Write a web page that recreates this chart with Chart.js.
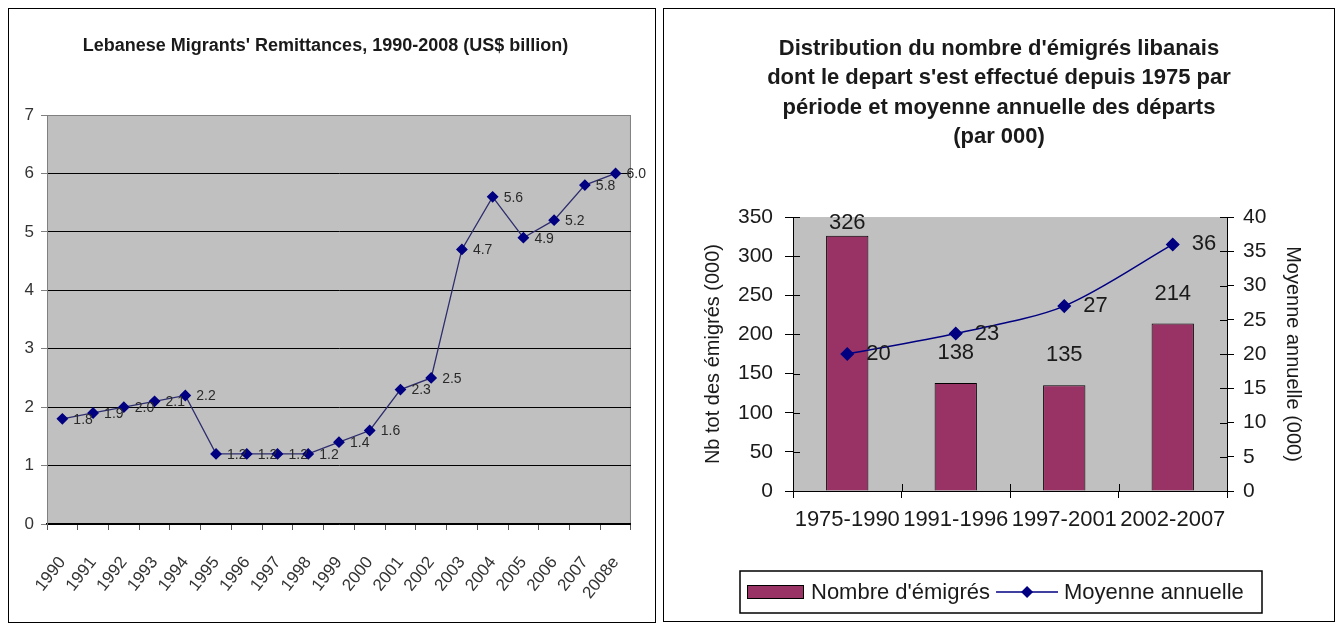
<!DOCTYPE html>
<html><head><meta charset="utf-8">
<script src="https://cdn.jsdelivr.net/npm/chart.js@4.4.1/dist/chart.umd.min.js"></script>
<style>
html,body{margin:0;padding:0;background:#fff;width:1338px;height:627px;overflow:hidden}
.box{position:absolute;border:1px solid #000;background:#fff}
#bl{left:8px;top:8px;width:646px;height:613px}
#br{left:663px;top:8px;width:670px;height:612px}
canvas{display:block}
</style></head><body>
<div class="box" id="bl"><canvas id="c1" width="646" height="613"></canvas></div>
<div class="box" id="br"><canvas id="c2" width="670" height="612"></canvas></div>
<script>
// ---- data: left chart ----
const years = ['1990','1991','1992','1993','1994','1995','1996','1997','1998','1999','2000','2001','2002','2003','2004','2005','2006','2007','2008e'];
const remittances = [1.8,1.9,2.0,2.1,2.2,1.2,1.2,1.2,1.2,1.4,1.6,2.3,2.5,4.7,5.6,4.9,5.2,5.8,6.0];
const remitMin = 0, remitMax = 7, remitStep = 1;
// ---- data: right chart ----
const periods = ['1975-1990','1991-1996','1997-2001','2002-2007'];
const emigrants = [326,138,135,214];
const annualAvg = [20,23,27,36];
const leftMin = 0, leftMax = 350, leftStep = 50;
const rightMin = 0, rightMax = 40, rightStep = 5;

const NARROW = "'Liberation Sans Narrow','Liberation Sans',Arial,sans-serif";
const REG = "'Liberation Sans',Arial,sans-serif";
const TXT = '#1a1a1a';

const plotBg = (fill, edge) => ({
  id:'plotBg',
  beforeDraw(chart){
    const a = chart.chartArea, c = chart.ctx;
    c.save(); c.fillStyle = fill; c.fillRect(a.left, a.top, a.right-a.left, a.bottom-a.top);
    if (edge){ c.strokeStyle = edge; c.lineWidth = 1; c.strokeRect(a.left+0.5, a.top+0.5, a.right-a.left-1, a.bottom-a.top-1); }
    c.restore();
  }
});

const leftLabels = {
  id:'leftLabels',
  afterDatasetsDraw(chart){
    const c = chart.ctx, meta = chart.getDatasetMeta(0), ds = chart.data.datasets[0].data;
    c.save(); c.font = '14px ' + NARROW; c.fillStyle = '#2a2a2a'; c.textAlign = 'left'; c.textBaseline = 'middle';
    meta.data.forEach((p,i) => c.fillText(ds[i].toFixed(1), p.x + 11, p.y + 1));
    c.restore();
  }
};

new Chart(document.getElementById('c1'), {
  type:'line',
  data:{labels: years, datasets:[{label:"Remittances (US$ billion)", data: remittances,
    borderColor:'#2e2e6e', borderWidth:1.3, tension:0, fill:false,
    pointStyle:'rectRot', pointRadius:5, pointBackgroundColor:'#000080', pointBorderColor:'#000080'}]},
  options:{responsive:false, animation:false, devicePixelRatio:1,
    layout:{padding:{left:0,right:13,top:0,bottom:0}},
    plugins:{legend:{display:false}, tooltip:{enabled:false},
      title:{display:true, text:"Lebanese Migrants' Remittances, 1990-2008 (US$ billion)", color:TXT,
        font:{family:NARROW, size:18, weight:'bold', lineHeight:1.2}, padding:{top:26,bottom:58.4}}},
    scales:{
      x:{offset:true, grid:{offset:true, drawOnChartArea:false, tickLength:6, tickColor:'#555'},
         border:{color:'#000', width:1.5},
         ticks:{minRotation:52, maxRotation:52, autoSkip:false, color:'#333', font:{family:NARROW,size:17}, padding:23},
         afterFit(s){ s.height = 98; }},
      y:{min:remitMin, max:remitMax, ticks:{stepSize:remitStep, color:'#333', font:{family:NARROW,size:17}, padding:7},
         grid:{color:ctx => (ctx.tick && ctx.tick.value === remitMax) ? '#808080' : '#000', tickColor:'#808080', tickLength:6, lineWidth:1},
         border:{color:'#808080'},
         afterFit(s){ s.width = 38; }}
    }
  },
  plugins:[plotBg('#c0c0c0','#808080'), leftLabels]
});

const rightExtras = {
  id:'rightExtras',
  afterDraw(chart){
    const c = chart.ctx, a = chart.chartArea;
    c.save();
    c.strokeStyle = '#000'; c.lineWidth = 1;
    const ys = chart.scales.y, y1 = chart.scales.y1;
    c.beginPath();
    ys.ticks.forEach((t,i) => { const y = Math.round(ys.getPixelForTick(i))+0.5; c.moveTo(a.left, y); c.lineTo(a.left+7, y); });
    y1.ticks.forEach((t,i) => { const y = Math.round(y1.getPixelForTick(i))+0.5; c.moveTo(a.right-7, y); c.lineTo(a.right, y); });
    const n = chart.data.labels.length, w = (a.right-a.left)/n;
    for (let i=1;i<n;i++){ const x = Math.round(a.left + i*w)+0.5; c.moveTo(x, a.bottom-7); c.lineTo(x, a.bottom); }
    c.stroke();
    const bm = chart.getDatasetMeta(0), bd = chart.data.datasets[0].data;
    c.font = '22px ' + REG; c.fillStyle = TXT; c.textAlign = 'center'; c.textBaseline = 'middle';
    bm.data.forEach((el,i) => c.fillText(String(bd[i]), el.x, Math.max(el.y - 30, a.top + 6)));
    const lm = chart.getDatasetMeta(1), ld = chart.data.datasets[1].data;
    c.textAlign = 'left';
    lm.data.forEach((el,i) => c.fillText(String(ld[i]), el.x + 19, el.y));
    const bx = 76, by = 562, bw = 522, bh = 42, cy = by + bh/2;
    c.lineWidth = 1.5; c.strokeStyle = '#000'; c.strokeRect(bx, by, bw, bh);
    const d0 = chart.data.datasets[0], d1 = chart.data.datasets[1];
    c.fillStyle = d0.backgroundColor; c.fillRect(83, cy-7, 56, 13);
    c.lineWidth = 1; c.strokeRect(83.5, cy-6.5, 56, 13);
    c.font = '22px ' + REG; c.fillStyle = TXT; c.textAlign = 'left'; c.textBaseline = 'middle';
    let x = 147; c.fillText(d0.label, x, cy+1);
    x += c.measureText(d0.label).width + 6;
    c.strokeStyle = d1.borderColor; c.lineWidth = 1.5;
    c.beginPath(); c.moveTo(x, cy); c.lineTo(x+62, cy); c.stroke();
    c.fillStyle = d1.pointBackgroundColor;
    c.beginPath(); c.moveTo(x+31, cy-6); c.lineTo(x+37, cy); c.lineTo(x+31, cy+6); c.lineTo(x+25, cy); c.closePath(); c.fill();
    x += 68; c.fillStyle = TXT; c.fillText(d1.label, x, cy+1);
    c.restore();
  }
};

new Chart(document.getElementById('c2'), {
  data:{labels: periods, datasets:[
    {type:'bar', label:"Nombre d'émigrés", data: emigrants, yAxisID:'y', backgroundColor:'#993366', borderColor:'#000', borderWidth:1,
     barPercentage:0.39, categoryPercentage:1, order:2},
    {type:'line', label:'Moyenne annuelle', data: annualAvg, yAxisID:'y1', borderColor:'#000080', borderWidth:1.5, tension:0.3,
     pointStyle:'rectRot', pointRadius:6, pointBackgroundColor:'#000080', pointBorderColor:'#000080', fill:false, order:1}
  ]},
  options:{responsive:false, animation:false, devicePixelRatio:1,
    layout:{padding:0},
    plugins:{legend:{display:false}, tooltip:{enabled:false},
      title:{display:true, text:["Distribution du nombre d'émigrés libanais","dont le depart s'est effectué depuis 1975 par","période et moyenne annuelle des départs","(par 000)"],
        color:TXT, font:{family:REG, size:22, weight:'bold', lineHeight:1.33}, padding:{top:25.5,bottom:65.5}}},
    scales:{
      x:{offset:true, grid:{offset:true, drawOnChartArea:false, tickLength:7, color:'#000'}, border:{color:'#000'},
         ticks:{color:TXT, font:{family:REG,size:22}, padding:9, autoSkip:false, maxRotation:0, minRotation:0},
         afterFit(s){ s.height = 130; }},
      y:{position:'left', min:leftMin, max:leftMax, ticks:{stepSize:leftStep, color:TXT, font:{family:REG,size:21}, padding:12},
         grid:{drawOnChartArea:false, tickLength:8, color:'#000'}, border:{color:'#000'},
         title:{display:true, text:'Nb tot des émigrés (000)', color:TXT, font:{family:REG,size:20}, padding:{top:37,bottom:0}},
         afterFit(s){ s.width = 129; }},
      y1:{position:'right', min:rightMin, max:rightMax, ticks:{stepSize:rightStep, color:TXT, font:{family:REG,size:21}, padding:9},
         grid:{drawOnChartArea:false, tickLength:7, color:'#000'}, border:{color:'#000'},
         title:{display:true, text:'Moyenne annuelle (000)', color:TXT, font:{family:REG,size:20}, padding:{top:29,bottom:0}},
         afterFit(s){ s.width = 107; }}
    }
  },
  plugins:[plotBg('#c0c0c0', null), rightExtras]
});
</script>
</body></html>
